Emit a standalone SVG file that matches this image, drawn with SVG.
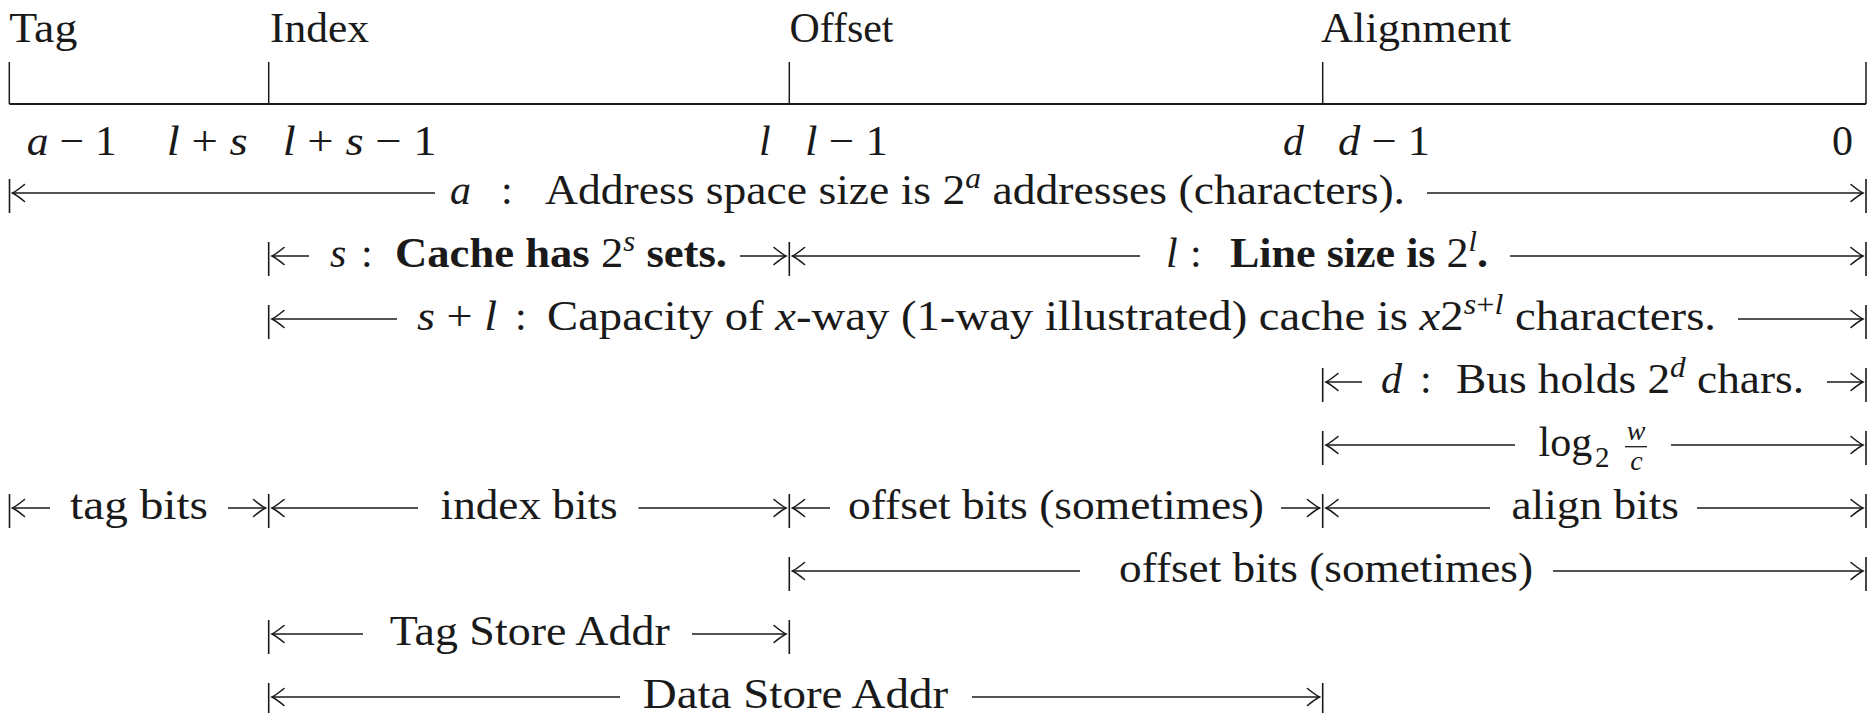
<svg xmlns="http://www.w3.org/2000/svg" width="1876" height="713" viewBox="0 0 1876 713" font-family="'Liberation Serif', 'Times New Roman', Times, 'DejaVu Serif', serif">
<style>
text{font-family:'Liberation Serif','Times New Roman',Times,'DejaVu Serif',serif}
.t{font-size:42px;fill:#1a1a1a}
.i{font-style:italic}
.b{font-weight:bold}
.n{font-weight:normal;font-style:normal}
.s{font-size:29px}
.f{font-size:28px}
.ln{stroke:#1a1a1a;stroke-width:1.7;fill:none}
.arr{stroke:#1a1a1a;stroke-width:1.7;fill:none;marker-end:url(#ah)}
.bar{stroke:#1a1a1a;stroke-width:1.6}
</style>
<defs>
<marker id="ah" markerUnits="userSpaceOnUse" markerWidth="30" markerHeight="30" refX="0" refY="0" orient="auto" overflow="visible">
<path d="M-12,-8.5 Q-4,-2 0,0 Q-4,2 -12,8.5" fill="none" stroke="#1a1a1a" stroke-width="1.6" stroke-linecap="round"/>
</marker>
</defs>
<rect width="1876" height="713" fill="#fff"/>

<g id="ruler">
<line class="ln" x1="9.3" y1="104" x2="1866" y2="104" style="stroke-width:2"/>
<line class="ln" x1="9.3" y1="62" x2="9.3" y2="104" style="stroke-width:1.5"/>
<line class="ln" x1="268.7" y1="62" x2="268.7" y2="104" style="stroke-width:1.5"/>
<line class="ln" x1="789.3" y1="62" x2="789.3" y2="104" style="stroke-width:1.5"/>
<line class="ln" x1="1322.7" y1="62" x2="1322.7" y2="104" style="stroke-width:1.5"/>
<line class="ln" x1="1866" y1="62" x2="1866" y2="104" style="stroke-width:1.5"/>
</g>

<g id="field-labels">
<text class="t" x="9.3" y="41.7" textLength="68" lengthAdjust="spacingAndGlyphs">Tag</text>
<text class="t" x="270" y="41.7" textLength="99" lengthAdjust="spacingAndGlyphs">Index</text>
<text class="t" x="789.5" y="41.7" textLength="104" lengthAdjust="spacingAndGlyphs">Offset</text>
<text class="t" x="1321" y="41.7" textLength="190" lengthAdjust="spacingAndGlyphs">Alignment</text>
</g>

<g id="bit-numbers">
<text class="t" x="26.7" y="155" textLength="90" lengthAdjust="spacingAndGlyphs"><tspan class="i">a</tspan> &#8722; 1</text>
<text class="t" x="166.7" y="155" textLength="81" lengthAdjust="spacingAndGlyphs"><tspan class="i">l</tspan> + <tspan class="i">s</tspan></text>
<text class="t" x="282.7" y="155" textLength="154" lengthAdjust="spacingAndGlyphs"><tspan class="i">l</tspan> + <tspan class="i">s</tspan> &#8722; 1</text>
<text class="t i" x="759" y="155">l</text>
<text class="t" x="805" y="155" textLength="83" lengthAdjust="spacingAndGlyphs"><tspan class="i">l</tspan> &#8722; 1</text>
<text class="t i" x="1283" y="155">d</text>
<text class="t" x="1338" y="155" textLength="92" lengthAdjust="spacingAndGlyphs"><tspan class="i">d</tspan> &#8722; 1</text>
<text class="t" x="1832" y="155">0</text>
</g>

<g id="address-space">
<text class="t i" x="450" y="203.5">a<tspan class="n" x="501">:</tspan></text>
<text class="t" x="545" y="203.5" textLength="860" lengthAdjust="spacingAndGlyphs">Address space size is 2<tspan class="s i" dy="-16">a</tspan><tspan dy="16"> addresses (characters).</tspan></text>
</g>

<g id="sets">
<text class="t i" x="330" y="266.5">s<tspan class="n" x="361">:</tspan></text>
<text class="t b" x="395" y="266.5" textLength="332" lengthAdjust="spacingAndGlyphs">Cache has <tspan class="n">2</tspan><tspan class="s i n" dy="-16" style="font-style:italic">s</tspan><tspan dy="16"> sets.</tspan></text>
</g>

<g id="line-size">
<text class="t i" x="1166" y="266.5">l<tspan class="n" x="1190">:</tspan></text>
<text class="t b" x="1230" y="266.5" textLength="258" lengthAdjust="spacingAndGlyphs">Line size is <tspan class="n">2</tspan><tspan class="s i n" dy="-16" style="font-style:italic">l</tspan><tspan dy="16">.</tspan></text>
</g>

<g id="capacity">
<text class="t" x="417" y="329.5" textLength="80" lengthAdjust="spacingAndGlyphs"><tspan class="i">s</tspan> + <tspan class="i">l</tspan></text>
<text class="t" x="515" y="329.5">:</text>
<text class="t" x="547" y="329.5" textLength="1169" lengthAdjust="spacingAndGlyphs">Capacity of <tspan class="i">x</tspan>-way (1-way illustrated) cache is <tspan class="i">x</tspan>2<tspan class="s i" dy="-16">s</tspan><tspan class="s">+</tspan><tspan class="s i">l</tspan><tspan dy="16"> characters.</tspan></text>
</g>

<g id="bus">
<text class="t i" x="1381" y="392.5">d<tspan class="n" x="1420">:</tspan></text>
<text class="t" x="1456" y="392.5" textLength="348" lengthAdjust="spacingAndGlyphs">Bus holds 2<tspan class="s i" dy="-16">d</tspan><tspan dy="16"> chars.</tspan></text>
</g>

<g id="log-w-c">
<text class="t" x="1538.5" y="456">log<tspan class="s" x="1595" y="467">2</tspan></text>
<text class="t f i" x="1636" y="440" text-anchor="middle">w</text>
<line class="ln" x1="1625" y1="446.7" x2="1647" y2="446.7" style="stroke-width:1.3"/>
<text class="t f i" x="1636.5" y="469.5" text-anchor="middle">c</text>
</g>

<g id="tag-bits">
<text class="t" x="70" y="518.5" textLength="138" lengthAdjust="spacingAndGlyphs">tag bits</text>
</g>
<g id="index-bits">
<text class="t" x="440.6" y="518.5" textLength="177" lengthAdjust="spacingAndGlyphs">index bits</text>
</g>
<g id="offset-bits-1">
<text class="t" x="848" y="518.5" textLength="416" lengthAdjust="spacingAndGlyphs">offset bits (sometimes)</text>
</g>
<g id="align-bits">
<text class="t" x="1511.5" y="518.5" textLength="167.5" lengthAdjust="spacingAndGlyphs">align bits</text>
</g>
<g id="offset-bits-2">
<text class="t" x="1119" y="581.5" textLength="414" lengthAdjust="spacingAndGlyphs">offset bits (sometimes)</text>
</g>
<g id="tag-store-addr">
<text class="t" x="389.7" y="644.5" textLength="280" lengthAdjust="spacingAndGlyphs">Tag Store Addr</text>
</g>
<g id="data-store-addr">
<text class="t" x="642.7" y="707.5" textLength="305.5" lengthAdjust="spacingAndGlyphs">Data Store Addr</text>
</g>

<g id="connectors">
<line class="bar" x1="9.5" y1="179" x2="9.5" y2="213"/>
<line class="arr" x1="435" y1="193" x2="12.5" y2="193"/>
<line class="arr" x1="1427" y1="193" x2="1863" y2="193"/>
<line class="bar" x1="1866" y1="179" x2="1866" y2="213"/>
<line class="bar" x1="268.7" y1="242" x2="268.7" y2="276"/>
<line class="arr" x1="309" y1="256" x2="272" y2="256"/>
<line class="arr" x1="740" y1="256" x2="786" y2="256"/>
<line class="bar" x1="789.3" y1="242" x2="789.3" y2="276"/>
<line class="arr" x1="1140" y1="256" x2="792.5" y2="256"/>
<line class="arr" x1="1510" y1="256" x2="1863" y2="256"/>
<line class="bar" x1="1866" y1="242" x2="1866" y2="276"/>
<line class="bar" x1="268.7" y1="305" x2="268.7" y2="339"/>
<line class="arr" x1="397" y1="319" x2="272" y2="319"/>
<line class="arr" x1="1738" y1="319" x2="1863" y2="319"/>
<line class="bar" x1="1866" y1="305" x2="1866" y2="339"/>
<line class="bar" x1="1322.7" y1="368" x2="1322.7" y2="402"/>
<line class="arr" x1="1362" y1="382" x2="1326" y2="382"/>
<line class="arr" x1="1827" y1="382" x2="1863" y2="382"/>
<line class="bar" x1="1866" y1="368" x2="1866" y2="402"/>
<line class="bar" x1="1322.7" y1="431" x2="1322.7" y2="465"/>
<line class="arr" x1="1515" y1="445" x2="1326" y2="445"/>
<line class="arr" x1="1671" y1="445" x2="1863" y2="445"/>
<line class="bar" x1="1866" y1="431" x2="1866" y2="465"/>
<line class="bar" x1="9.5" y1="494" x2="9.5" y2="528"/>
<line class="arr" x1="50" y1="508" x2="12.5" y2="508"/>
<line class="arr" x1="228" y1="508" x2="265.5" y2="508"/>
<line class="bar" x1="268.7" y1="494" x2="268.7" y2="528"/>
<line class="arr" x1="418" y1="508" x2="272" y2="508"/>
<line class="arr" x1="638.5" y1="508" x2="786" y2="508"/>
<line class="bar" x1="789.3" y1="494" x2="789.3" y2="528"/>
<line class="arr" x1="830" y1="508" x2="792.5" y2="508"/>
<line class="arr" x1="1281" y1="508" x2="1319.5" y2="508"/>
<line class="bar" x1="1322.7" y1="494" x2="1322.7" y2="528"/>
<line class="arr" x1="1490" y1="508" x2="1326" y2="508"/>
<line class="arr" x1="1697" y1="508" x2="1863" y2="508"/>
<line class="bar" x1="1866" y1="494" x2="1866" y2="528"/>
<line class="bar" x1="789.3" y1="557" x2="789.3" y2="591"/>
<line class="arr" x1="1080" y1="571" x2="792.5" y2="571"/>
<line class="arr" x1="1553" y1="571" x2="1863" y2="571"/>
<line class="bar" x1="1866" y1="557" x2="1866" y2="591"/>
<line class="bar" x1="268.7" y1="620" x2="268.7" y2="654"/>
<line class="arr" x1="363" y1="634" x2="272" y2="634"/>
<line class="arr" x1="692" y1="634" x2="786" y2="634"/>
<line class="bar" x1="789.3" y1="620" x2="789.3" y2="654"/>
<line class="bar" x1="268.7" y1="683" x2="268.7" y2="717"/>
<line class="arr" x1="620" y1="697" x2="272" y2="697"/>
<line class="arr" x1="972" y1="697" x2="1319.5" y2="697"/>
<line class="bar" x1="1322.7" y1="683" x2="1322.7" y2="717"/>
</g>
</svg>
